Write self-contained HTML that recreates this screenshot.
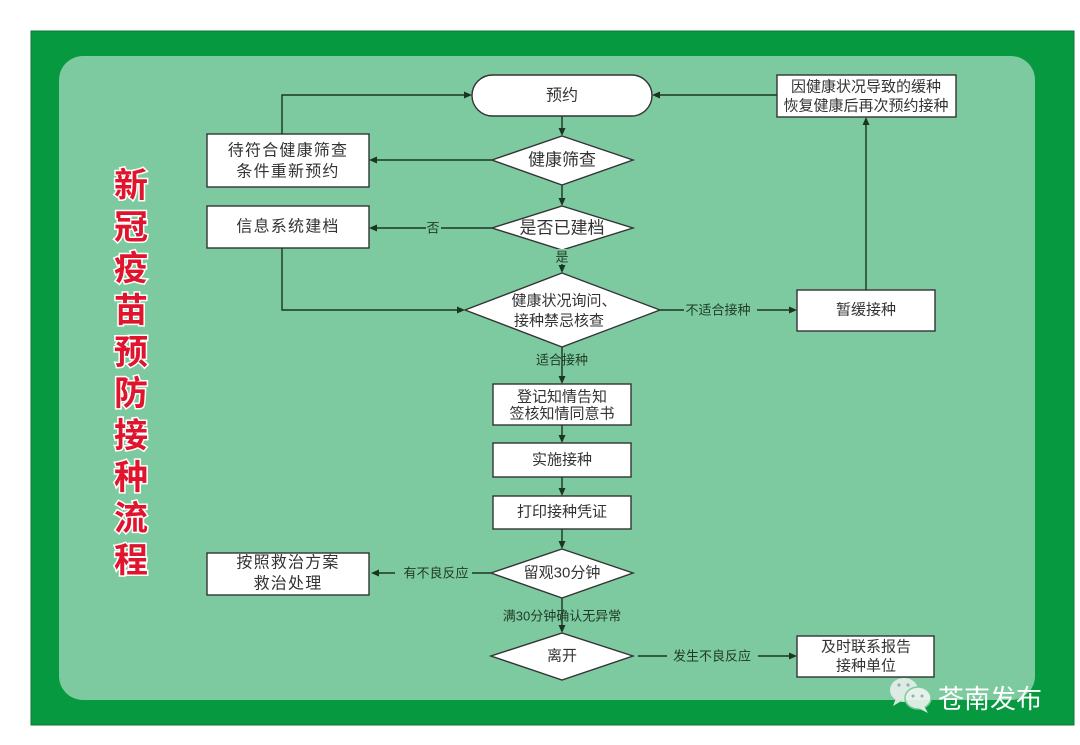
<!DOCTYPE html>
<html>
<head>
<meta charset="utf-8">
<style>
html,body{margin:0;padding:0;background:#ffffff;}
body{width:1080px;height:745px;overflow:hidden;}
svg{display:block;}
.t{font-family:"Liberation Sans","Noto Sans CJK SC",sans-serif;fill:#333333;}
.lb{font-family:"Liberation Sans","Noto Sans CJK SC",sans-serif;fill:#1f3a26;font-size:13px;}
.ln{stroke:#1b3522;stroke-width:1.4;fill:none;}
.bx{fill:#ffffff;stroke:#333333;stroke-width:1.4;}
.ah{fill:#1b3522;}
.ti{font-family:"Liberation Sans","Noto Sans CJK SC",sans-serif;font-weight:bold;font-size:34px;fill:#e0142c;stroke:#ffffff;stroke-width:3;paint-order:stroke;}
</style>
</head>
<body>
<svg width="1080" height="745" viewBox="0 0 1080 745" xmlns="http://www.w3.org/2000/svg">
  <rect x="0" y="0" width="1080" height="745" fill="#ffffff"/>
  <rect x="31" y="31" width="1043" height="694" fill="#079940" stroke="#0a7a35" stroke-width="1"/>
  <rect x="59" y="56" width="976" height="644" rx="24" ry="24" fill="#7ecaa0"/>

  <!-- Title -->
  <g class="ti" text-anchor="middle" dominant-baseline="central">
    <text x="131" y="186">新</text>
    <text x="131" y="228">冠</text>
    <text x="131" y="269">疫</text>
    <text x="131" y="311">苗</text>
    <text x="131" y="353">预</text>
    <text x="131" y="394">防</text>
    <text x="131" y="436">接</text>
    <text x="131" y="478">种</text>
    <text x="131" y="519">流</text>
    <text x="131" y="561">程</text>
  </g>

  <!-- Connectors -->
  <g class="ln">
    <line x1="562" y1="116" x2="562" y2="130"/>
    <line x1="562" y1="185" x2="562" y2="200"/>
    <line x1="562" y1="250" x2="562" y2="267"/>
    <line x1="562" y1="347" x2="562" y2="378"/>
    <line x1="562" y1="425" x2="562" y2="437"/>
    <line x1="562" y1="477" x2="562" y2="490"/>
    <line x1="562" y1="529" x2="562" y2="543"/>
    <line x1="562" y1="598" x2="562" y2="627"/>
    <line x1="492" y1="160" x2="376" y2="160"/>
    <line x1="492" y1="228" x2="441" y2="228"/>
    <line x1="426" y1="228" x2="376" y2="228"/>
    <polyline points="282,134 282,95 466,95"/>
    <polyline points="282,248 282,310 459,310"/>
    <line x1="660" y1="310" x2="684" y2="310"/>
    <line x1="757" y1="310" x2="791" y2="310"/>
    <line x1="866" y1="290" x2="866" y2="123"/>
    <line x1="777" y1="95" x2="658" y2="95"/>
    <line x1="491" y1="573" x2="472" y2="573"/>
    <line x1="395" y1="573" x2="378" y2="573"/>
    <line x1="638" y1="656" x2="667" y2="656"/>
    <line x1="758" y1="656" x2="791" y2="656"/>
  </g>

  <!-- Arrowheads -->
  <g class="ah">
    <polygon points="562,136 558.5,128 565.5,128"/>
    <polygon points="562,206 558.5,198 565.5,198"/>
    <polygon points="562,273 558.5,265 565.5,265"/>
    <polygon points="562,384 558.5,376 565.5,376"/>
    <polygon points="562,443 558.5,435 565.5,435"/>
    <polygon points="562,496 558.5,488 565.5,488"/>
    <polygon points="562,549 558.5,541 565.5,541"/>
    <polygon points="562,633 558.5,625 565.5,625"/>
    <polygon points="369,160 377,156.5 377,163.5"/>
    <polygon points="369,228 377,224.5 377,231.5"/>
    <polygon points="472,95 464,91.5 464,98.5"/>
    <polygon points="465,310 457,306.5 457,313.5"/>
    <polygon points="797,310 789,306.5 789,313.5"/>
    <polygon points="866,117 862.5,125 869.5,125"/>
    <polygon points="652,95 660,91.5 660,98.5"/>
    <polygon points="371,573 379,569.5 379,576.5"/>
    <polygon points="797,656 789,652.5 789,659.5"/>
  </g>

  <!-- Nodes -->
  <rect class="bx" x="472" y="75" width="180" height="41" rx="20.5" ry="20.5"/>
  <polygon class="bx" points="562,136 633,160 562,185 492,160"/>
  <polygon class="bx" points="562,206 633,228 562,250 492,228"/>
  <polygon class="bx" points="562,273 660,310 562,347 465,310"/>
  <rect class="bx" x="493" y="384" width="138" height="41"/>
  <rect class="bx" x="493" y="443" width="138" height="34"/>
  <rect class="bx" x="493" y="496" width="138" height="33"/>
  <polygon class="bx" points="562,549 633,573 562,598 491,573"/>
  <polygon class="bx" points="562,633 633,656 562,680 491,656"/>
  <rect class="bx" x="207" y="134" width="162" height="53"/>
  <rect class="bx" x="207" y="206" width="162" height="42"/>
  <rect class="bx" x="207" y="553" width="162" height="42"/>
  <rect class="bx" x="777" y="75" width="179" height="42"/>
  <rect class="bx" x="797" y="290" width="138" height="41"/>
  <rect class="bx" x="797" y="636" width="137" height="41"/>

  <!-- Node text -->
  <g class="t" text-anchor="middle" dominant-baseline="central">
    <text x="562" y="96" font-size="16">预约</text>
    <text x="562" y="160" font-size="17">健康筛查</text>
    <text x="562" y="228" font-size="17">是否已建档</text>
    <text x="564" y="301" font-size="15">健康状况询问、</text>
    <text x="559" y="321" font-size="15">接种禁忌核查</text>
    <text x="562" y="397" font-size="15">登记知情告知</text>
    <text x="562" y="414" font-size="15">签核知情同意书</text>
    <text x="562" y="460" font-size="15">实施接种</text>
    <text x="562" y="512" font-size="15">打印接种凭证</text>
    <text x="562" y="573" font-size="15">留观30分钟</text>
    <text x="562" y="656" font-size="15">离开</text>
    <text x="288" y="151" font-size="16" letter-spacing="1.2">待符合健康筛查</text>
    <text x="288" y="172" font-size="16" letter-spacing="1.2">条件重新预约</text>
    <text x="288" y="227" font-size="16" letter-spacing="1.2">信息系统建档</text>
    <text x="288" y="563" font-size="16" letter-spacing="1.2">按照救治方案</text>
    <text x="288" y="584" font-size="16" letter-spacing="1.2">救治处理</text>
    <text x="866" y="87" font-size="15">因健康状况导致的缓种</text>
    <text x="866" y="106" font-size="15">恢复健康后再次预约接种</text>
    <text x="866" y="310" font-size="15">暂缓接种</text>
    <text x="866" y="647" font-size="15">及时联系报告</text>
    <text x="866" y="666" font-size="15">接种单位</text>
  </g>

  <!-- Connector labels -->
  <g class="lb" text-anchor="middle" dominant-baseline="central">
    <rect x="554" y="249" width="16" height="15" fill="#7ecaa0"/>
    <text x="562" y="257">是</text>
    <text x="433" y="228">否</text>
    <rect x="534" y="352" width="56" height="15" fill="#7ecaa0" opacity="0"/>
    <text x="562" y="360">适合接种</text>
    <text x="718" y="310">不适合接种</text>
    <text x="436" y="573">有不良反应</text>
    <text x="562" y="616">满30分钟确认无异常</text>
    <text x="712" y="656">发生不良反应</text>
  </g>

  <!-- Watermark -->
  <g opacity="0.9">
    <ellipse cx="904" cy="690" rx="14" ry="12" fill="#e8f0ea"/>
    <polygon points="896,698 893,706 903,700" fill="#e8f0ea"/>
    <ellipse cx="918" cy="698" rx="13" ry="11" fill="#f2f6f3" stroke="#7ecaa0" stroke-width="1.5"/>
    <polygon points="924,706 928,713 918,708" fill="#f2f6f3"/>
    <circle cx="899" cy="685" r="1.6" fill="#9aa"/>
    <circle cx="908" cy="685" r="1.6" fill="#9aa"/>
    <circle cx="913" cy="696" r="1.5" fill="#9aa"/>
    <circle cx="922" cy="696" r="1.5" fill="#9aa"/>
  </g>
  <text x="938" y="708" font-family="'Liberation Sans','Noto Sans CJK SC',sans-serif" font-size="26" fill="#ffffff">苍南发布</text>
</svg>
</body>
</html>
